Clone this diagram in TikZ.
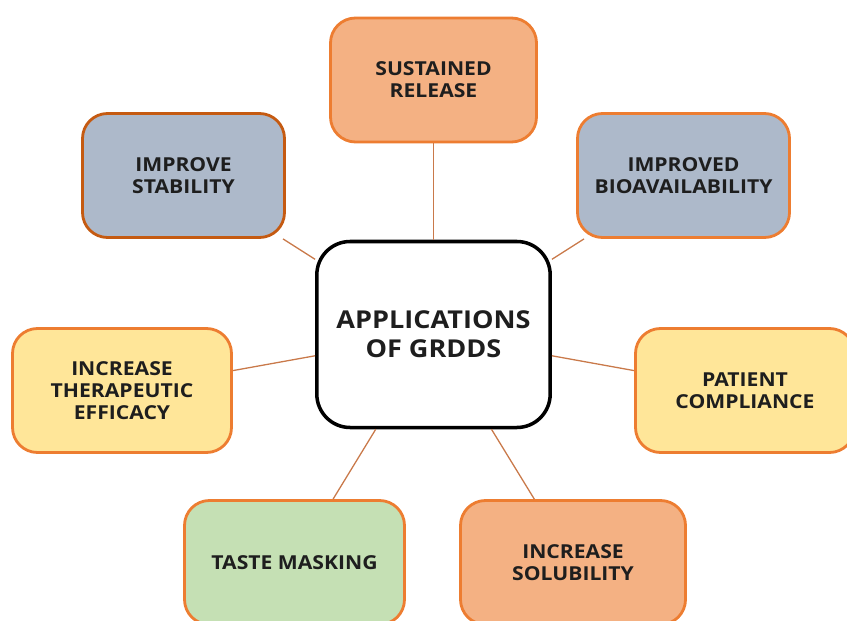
\documentclass[tikz,border=0pt]{standalone}
\usepackage{fontspec}
\setmainfont{Open Sans}[FakeStretch=1.1]
\usepackage{tikz}

\definecolor{edgeor}{HTML}{ED7D31}
\definecolor{edgedk}{HTML}{C55A11}
\definecolor{linkor}{HTML}{C9794A}
\definecolor{fillor}{HTML}{F4B183}
\definecolor{fillbl}{HTML}{ADB9CA}
\definecolor{fillye}{HTML}{FFE699}
\definecolor{fillgr}{HTML}{C5E0B4}
\definecolor{txt}{HTML}{1E1E1E}

\begin{document}
\begin{tikzpicture}[x=0.03cm,y=-0.03cm,
  box/.style={draw=edgeor,line width=2.4pt,rounded corners=0.75cm,align=center,
    inner sep=0pt,text=txt,minimum height=3.72cm,
    font=\bfseries\fontsize{16.4}{18.8}\selectfont},
  hub/.style={draw=black,line width=3pt,rounded corners=1cm,align=center,fill=white,
    inner sep=0pt,text=txt,minimum width=7cm,minimum height=5.58cm,
    font=\bfseries\fontsize{21}{24.5}\selectfont},
  link/.style={draw=linkor,line width=1.1pt}]
	  \clip (0,0) rectangle (847,620);

	  \node[hub] (app) at (433.5,334.5) {APPLICATIONS\\OF GRDDS};

	  \node[box,fill=fillor,minimum width=6.18cm] (sus) at (433.5,80) {SUSTAINED\\RELEASE};
	  \node[box,fill=fillbl,draw=edgedk,minimum width=6.06cm] (stab) at (183.5,175.5) {IMPROVE\\STABILITY};
	  \node[box,fill=fillbl,minimum width=6.36cm] (bio) at (683.5,175.5) {IMPROVED\\BIOAVAILABILITY};
	  \node[box,fill=fillye,minimum width=6.57cm] (eff) at (122,390.5) {INCREASE\\THERAPEUTIC\\EFFICACY};
	  \node[box,fill=fillye,minimum width=6.57cm] (pat) at (745,390.5) {PATIENT\\COMPLIANCE};
	  \node[box,fill=fillgr,minimum width=6.6cm] (taste) at (294.5,562.5) {TASTE MASKING};
	  \node[box,fill=fillor,minimum width=6.75cm] (sol) at (573,562.5) {INCREASE\\SOLUBILITY};

	  \foreach \n in {sus,bio,pat,sol,taste,eff,stab}{\draw[link] (app) -- (\n);}

\end{tikzpicture}
\end{document}
